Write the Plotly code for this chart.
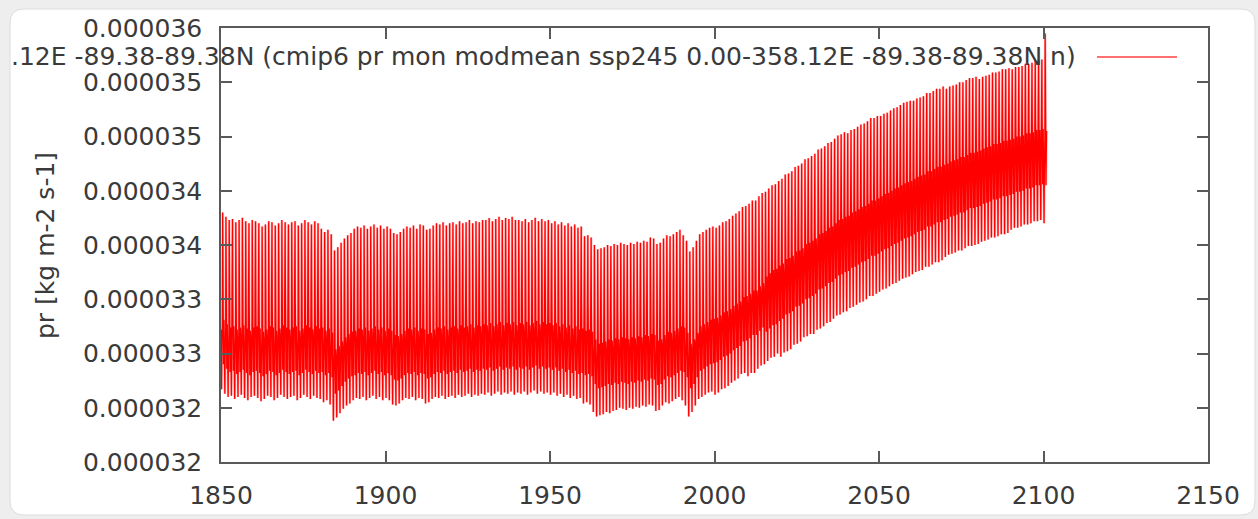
import plotly.graph_objects as go

# ---------------- data ----------------
start_year = 1850
# baseline level of the monthly series for each year 1850..2099 (units 1e-5 kg m-2 s-1)
baseline = [
    3.310, 3.306, 3.303, 3.304, 3.301, 3.303, 3.305, 3.302, 3.300, 3.303,  # 1850s
    3.304, 3.302, 3.299, 3.301, 3.304, 3.303, 3.300, 3.302, 3.305, 3.303,  # 1860s
    3.301, 3.303, 3.304, 3.300, 3.302, 3.305, 3.303, 3.301, 3.304, 3.302,  # 1870s
    3.303, 3.300, 3.302, 3.298, 3.283, 3.286, 3.290, 3.294, 3.297, 3.299,  # 1880s
    3.300, 3.302, 3.301, 3.303, 3.300, 3.302, 3.304, 3.301, 3.303, 3.300,  # 1890s
    3.302, 3.300, 3.296, 3.295, 3.297, 3.300, 3.302, 3.301, 3.303, 3.300,  # 1900s
    3.302, 3.301, 3.297, 3.298, 3.301, 3.303, 3.302, 3.304, 3.301, 3.303,  # 1910s
    3.304, 3.302, 3.305, 3.303, 3.304, 3.306, 3.303, 3.305, 3.304, 3.306,  # 1920s
    3.305, 3.307, 3.304, 3.306, 3.308, 3.305, 3.307, 3.306, 3.308, 3.305,  # 1930s
    3.307, 3.306, 3.308, 3.305, 3.307, 3.309, 3.306, 3.308, 3.306, 3.307,  # 1940s
    3.305, 3.307, 3.304, 3.306, 3.303, 3.305, 3.302, 3.304, 3.301, 3.302,  # 1950s
    3.300, 3.301, 3.299, 3.292, 3.288, 3.289, 3.290, 3.292, 3.291, 3.293,  # 1960s
    3.292, 3.294, 3.293, 3.292, 3.294, 3.293, 3.295, 3.294, 3.296, 3.295,  # 1970s
    3.297, 3.296, 3.291, 3.292, 3.296, 3.299, 3.298, 3.300, 3.302, 3.304,  # 1980s
    3.303, 3.298, 3.288, 3.292, 3.298, 3.304, 3.306, 3.308, 3.310, 3.311,  # 1990s
    3.312, 3.314, 3.317, 3.318, 3.320, 3.323, 3.325, 3.327, 3.331, 3.332,  # 2000s
    3.334, 3.337, 3.337, 3.341, 3.344, 3.345, 3.348, 3.351, 3.352, 3.355,  # 2010s
    3.357, 3.361, 3.362, 3.364, 3.368, 3.369, 3.371, 3.375, 3.376, 3.378,  # 2020s
    3.380, 3.384, 3.385, 3.387, 3.390, 3.391, 3.394, 3.397, 3.398, 3.400,  # 2030s
    3.401, 3.404, 3.405, 3.407, 3.409, 3.410, 3.412, 3.415, 3.415, 3.417,  # 2040s
    3.419, 3.421, 3.422, 3.424, 3.426, 3.427, 3.429, 3.431, 3.432, 3.433,  # 2050s
    3.435, 3.437, 3.438, 3.439, 3.442, 3.442, 3.444, 3.446, 3.446, 3.448,  # 2060s
    3.449, 3.451, 3.452, 3.453, 3.455, 3.455, 3.457, 3.459, 3.459, 3.460,  # 2070s
    3.461, 3.463, 3.464, 3.465, 3.467, 3.467, 3.468, 3.470, 3.470, 3.471,  # 2080s
    3.472, 3.474, 3.474, 3.475, 3.477, 3.477, 3.478, 3.480, 3.480, 3.481,  # 2090s
]
# monthly anomalies Jan..Dec (units 1e-5) for the band months, historical run (to 2014) and ssp245
seasonal_hist = [0.012, -0.018, None, -0.012, 0.006, 0.017, None, 0.044, -0.006, -0.020, 0.000, 0.021]
seasonal_ssp = [0.013, -0.022, None, -0.014, 0.007, 0.020, None, 0.036, -0.007, -0.025, 0.000, 0.026]
scenario_start = 2015
# yearly maximum (July) and minimum (March) month relative to baseline, read per decade 1850s..2090s
peak_by_decade = [0.120, 0.118, 0.118, 0.112, 0.115, 0.115, 0.117, 0.117, 0.118, 0.116, 0.115, 0.108, 0.108,
                  0.110, 0.106, 0.104, 0.104, 0.104, 0.104, 0.102, 0.100, 0.098, 0.095, 0.092, 0.090]
trough_by_decade = [-0.043, -0.043, -0.043, -0.045, -0.043, -0.043, -0.043, -0.043, -0.043, -0.043, -0.043,
                    -0.046, -0.044, -0.044, -0.046, -0.050, -0.055, -0.060, -0.062, -0.062, -0.062, -0.062,
                    -0.060, -0.060, -0.058]
PEAK_MONTH, TROUGH_MONTH = 6, 2
# last year of the record, monthly values (units 1e-5)
pr_2100 = [3.470, 3.455, 3.420, 3.460, 3.480, 3.500, 3.595, 3.520, 3.470, 3.455, 3.480, 3.505]
UNIT = 1e-5

x_ticks = [1850, 1900, 1950, 2000, 2050, 2100, 2150]
y_ticks = [3.20e-5, 3.25e-5, 3.30e-5, 3.35e-5, 3.40e-5, 3.45e-5, 3.50e-5, 3.55e-5, 3.60e-5]
y_tick_labels = ["0.000032", "0.000032", "0.000033", "0.000033", "0.000034",
                 "0.000034", "0.000035", "0.000035", "0.000036"]
legend_text = ".12E -89.38-89.38N (cmip6 pr mon modmean ssp245 0.00-358.12E -89.38-89.38N n)"
y_title = "pr [kg m-2 s-1]"

# ---------------- build monthly series ----------------
t, pr = [], []
for i, base in enumerate(baseline):
    yr = start_year + i
    dec = (yr - start_year) // 10
    cyc = list(seasonal_hist if yr < scenario_start else seasonal_ssp)
    cyc[PEAK_MONTH] = peak_by_decade[dec]
    cyc[TROUGH_MONTH] = trough_by_decade[dec]
    for m in range(12):
        t.append(yr + m / 12.0)
        pr.append((base + cyc[m]) * UNIT)
for m in range(12):
    t.append(2100 + m / 12.0)
    pr.append(pr_2100[m] * UNIT)

# ---------------- figure ----------------
W, H = 1258, 519
L, R, T, B = 221, 50, 28, 57
pw, ph = W - L - R, H - T - B


def px(xp):
    return (xp - L) / pw


def py(yp):
    return (H - B - yp) / ph


RED = "#ff0000"
PINK = "#ffb0b0"
FONT = "DejaVu Sans"
TXT = "#3a3a3a"
AX = "#5a5a5a"
FS = 25

fig = go.Figure()
# soft halo (antialiased look of the original) and the red line on top
fig.add_trace(go.Scatter(x=t, y=pr, mode="lines", line=dict(color=PINK, width=2.4),
                         showlegend=False, hoverinfo="skip"))
fig.add_trace(go.Scatter(x=t, y=pr, mode="lines", line=dict(color=RED, width=1.25),
                         showlegend=False, hoverinfo="skip"))

# screenshot panel (rounded white card on grey)
x0, x1, y0, y1, r = px(10), px(1255), py(9), py(515), 14
rx, ry = r / pw, r / ph
path = (f"M {x0+rx},{y0} L {x1-rx},{y0} Q {x1},{y0} {x1},{y0-ry} "
        f"L {x1},{y1+ry} Q {x1},{y1} {x1-rx},{y1} L {x0+rx},{y1} "
        f"Q {x0},{y1} {x0},{y1+ry} L {x0},{y0-ry} Q {x0},{y0} {x0+rx},{y0} Z")
fig.add_shape(type="path", path=path, xref="paper", yref="paper",
              fillcolor="white", line=dict(color="#dcdcdc", width=1), layer="below")

# legend text + sample line (gnuplot style key)
fig.add_annotation(x=px(1078), y=py(56), xref="paper", yref="paper", text=legend_text,
                   showarrow=False, xanchor="right", yanchor="middle",
                   font=dict(family=FONT, size=FS, color=TXT))
fig.add_shape(type="line", xref="paper", yref="paper", x0=px(1097), x1=px(1177),
              y0=py(57), y1=py(57), line=dict(color="#ff7070", width=1.8))

# y axis title
fig.add_annotation(x=px(46), y=py(246), xref="paper", yref="paper", text=y_title,
                   showarrow=False, textangle=-90, xanchor="center", yanchor="middle",
                   font=dict(family=FONT, size=FS, color=TXT))

axis_common = dict(showline=True, linecolor=AX, linewidth=1.5, mirror="ticks",
                   ticks="inside", ticklen=11, tickcolor=AX, tickwidth=1.5,
                   showgrid=False, zeroline=False,
                   tickfont=dict(family=FONT, size=FS, color=TXT))
fig.update_xaxes(range=[1850, 2150], tickvals=x_ticks, ticktext=[str(v) for v in x_ticks],
                 ticklabelstandoff=10, **axis_common)
fig.update_yaxes(range=[3.2e-5, 3.6e-5], tickvals=y_ticks, ticktext=y_tick_labels,
                 ticklabelstandoff=12, **axis_common)

fig.update_layout(width=W, height=H, margin=dict(l=L, r=R, t=T, b=B, autoexpand=False),
                  paper_bgcolor="#eeeeee", plot_bgcolor="rgba(0,0,0,0)",
                  showlegend=False)
fig.write_html("out.html", config={"displayModeBar": False},
               post_script="document.body.style.margin='0';"
                           "document.body.style.overflow='hidden';"
                           "document.body.style.background='#eeeeee';")
